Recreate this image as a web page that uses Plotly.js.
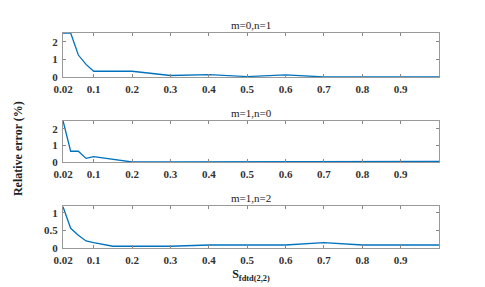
<!DOCTYPE html>
<html>
<head>
<meta charset="utf-8">
<script src="https://cdn.plot.ly/plotly-3.0.1.min.js"></script>
<style>html,body{margin:0;padding:0;background:#fff;}#chart{width:485px;height:287px;}</style>
</head>
<body>
<div id="chart"></div>
<script>
// Data
const xA = [0.02, 0.04, 0.06, 0.08, 0.1, 0.2, 0.3, 0.4, 0.5, 0.6, 0.7, 0.8, 0.9, 1.0];
const errM0N1 = [2.5, 2.5, 1.25, 0.72, 0.33, 0.33, 0.09, 0.14, 0.03, 0.12, 0.01, 0.01, 0.01, 0.01];
const errM1N0 = [2.5, 0.65, 0.65, 0.22, 0.32, 0.0, 0.0, 0.0, 0.03, 0.03, 0.03, 0.03, 0.03, 0.03];
const xB = [0.02, 0.04, 0.06, 0.08, 0.1, 0.15, 0.2, 0.3, 0.4, 0.5, 0.6, 0.7, 0.8, 0.9, 1.0];
const errM1N2 = [1.17, 0.56, 0.36, 0.2, 0.15, 0.05, 0.05, 0.05, 0.085, 0.085, 0.085, 0.15, 0.085, 0.085, 0.085];
const titles = ['m=0,n=1', 'm=1,n=0', 'm=1,n=2'];
const xTicks = [0.02, 0.1, 0.2, 0.3, 0.4, 0.5, 0.6, 0.7, 0.8, 0.9];
const yTicksA = [0, 1, 2];
const yTicksB = [0, 0.5, 1];

const SERIF = "'Liberation Serif', 'DejaVu Serif', serif";
const lineStyle = {color: '#0072BD', width: 1.3};
const traces = [
  {x: xA, y: errM0N1, xaxis: 'x', yaxis: 'y', mode: 'lines', line: lineStyle},
  {x: xA, y: errM1N0, xaxis: 'x2', yaxis: 'y2', mode: 'lines', line: lineStyle},
  {x: xB, y: errM1N2, xaxis: 'x3', yaxis: 'y3', mode: 'lines', line: lineStyle}
];

const tickFont = {family: SERIF, size: 11, color: '#333', weight: 'bold'};
function xax(anchor, withTitle) {
  const a = {
    anchor: anchor, range: [0.02, 1.0], tickvals: xTicks,
    ticktext: xTicks.map(v => String(v)),
    ticks: 'inside', ticklen: 3, tickcolor: '#888', mirror: 'ticks',
    showline: true, linecolor: '#999', linewidth: 1, showgrid: false, zeroline: false,
    tickfont: tickFont, ticklabelstandoff: 2
  };
  if (withTitle) a.title = {text: 'S<sub>fdtd(2,2)</sub>', font: {family: SERIF, size: 12, color: '#222', weight: 'bold'}, standoff: 4};
  return a;
}
function yax(anchor, domain, range, vals) {
  return {
    anchor: anchor, domain: domain, range: range, tickvals: vals,
    ticktext: vals.map(v => String(v)),
    ticks: 'inside', ticklen: 3, tickcolor: '#888', mirror: 'ticks',
    showline: true, linecolor: '#999', linewidth: 1, showgrid: false, zeroline: false,
    tickfont: tickFont, ticklabelstandoff: 2
  };
}

const ann = [];
const titleY = [1.0, 0.592, 0.195];
titles.forEach((t, i) => {
  ann.push({text: t, xref: 'paper', yref: 'paper', x: 0.5, y: titleY[i], yanchor: 'bottom',
    xanchor: 'center', showarrow: false, yshift: 0,
    font: {family: SERIF, size: 11, color: '#222'}});
});
ann.push({text: 'Relative error (%)', xref: 'paper', yref: 'paper', x: 0, y: 0.46,
  xanchor: 'center', yanchor: 'middle', xshift: -45, textangle: -90, showarrow: false,
  font: {family: SERIF, size: 12, color: '#222', weight: 'bold'}});

const layout = {
  width: 485, height: 287,
  margin: {l: 63, r: 46, t: 33, b: 39},
  paper_bgcolor: '#fff', plot_bgcolor: '#fff',
  showlegend: false,
  font: {family: SERIF},
  xaxis: xax('y', false),
  xaxis2: xax('y2', false),
  xaxis3: xax('y3', true),
  yaxis: yax('x', [0.795, 1.0], [0, 2.5], yTicksA),
  yaxis2: yax('x2', [0.4, 0.592], [0, 2.5], yTicksA),
  yaxis3: yax('x3', [0.0, 0.195], [0, 1.19], yTicksB),
  annotations: ann
};

Plotly.newPlot('chart', traces, layout, {staticPlot: true, displayModeBar: false});
</script>
</body>
</html>
